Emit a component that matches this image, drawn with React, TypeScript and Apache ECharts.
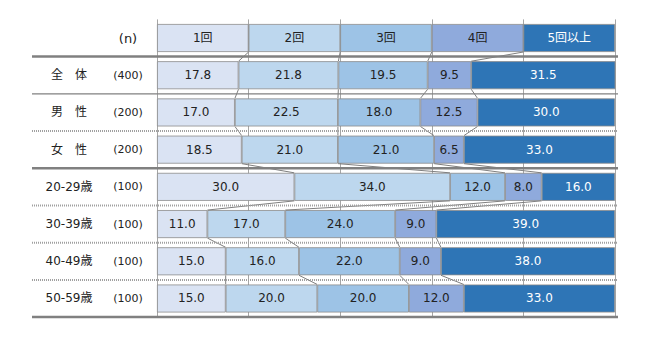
import React, { useEffect, useRef } from "react";
import * as echarts from "echarts";

const seriesNames = ["1回", "2回", "3回", "4回", "5回以上"];
const rowLabels = ["", "全　体", "男　性", "女　性", "20-29歳", "30-39歳", "40-49歳", "50-59歳"];
const nLabels = ["(n)", "(400)", "(200)", "(200)", "(100)", "(100)", "(100)", "(100)"];
const headerValues = [20, 20, 20, 20, 20];
const v1 = [17.8, 17.0, 18.5, 30.0, 11.0, 15.0, 15.0];
const v2 = [21.8, 22.5, 21.0, 34.0, 17.0, 16.0, 20.0];
const v3 = [19.5, 18.0, 21.0, 12.0, 24.0, 22.0, 20.0];
const v4 = [9.5, 12.5, 6.5, 8.0, 9.0, 9.0, 12.0];
const v5 = [31.5, 30.0, 33.0, 16.0, 39.0, 38.0, 33.0];
const colors = ["#dae3f3", "#bdd7ee", "#9dc3e6", "#8faadc", "#2e75b6"];
const labelColors = ["#222", "#222", "#222", "#222", "#ffffff"];
// separator style after each row index
const separatorStyles = ["thick", "solid", "dotted", "thick", "dotted", "dotted", "dotted", "thick"];

const BAR_W = 28;
const FONT = "DejaVu Sans, Noto Sans CJK JP, sans-serif";

export default function App() {
  const ref = useRef<HTMLDivElement>(null);
  useEffect(() => {
    document.body.style.margin = "0";
    const chart = echarts.init(ref.current!, null, { renderer: "svg" });
    const valueSets = [v1, v2, v3, v4, v5];
    const seriesData = valueSets.map((vals, s) => [headerValues[s], ...vals]);

    // cumulative boundaries per row
    const rowCount = rowLabels.length;
    const cum: number[][] = [];
    for (let r = 0; r < rowCount; r++) {
      let acc = 0;
      const b: number[] = [];
      for (let s = 0; s < 4; s++) {
        acc += seriesData[s][r];
        b.push(acc);
      }
      cum.push(b);
    }
    const connectorData: number[][] = [];
    for (let r = 0; r < rowCount - 1; r++) {
      for (let k = 0; k < 4; k++) {
        connectorData.push([cum[r][k], r, cum[r + 1][k], r + 1]);
      }
    }
    const sepCodes: Record<string, number> = { thick: 0, solid: 1, dotted: 2 };
    const sepData = separatorStyles.map((st, i) => [0, i, sepCodes[st]]);

    const barSeries = seriesNames.map((name, s) => ({
      type: "bar",
      name,
      stack: "total",
      barWidth: BAR_W,
      data: seriesData[s],
      itemStyle: { color: colors[s], borderColor: "#8c8c8c", borderWidth: 0.8 },
      label: {
        show: true,
        position: "inside",
        color: labelColors[s],
        fontFamily: FONT,
        fontSize: 12,
        formatter: (p: any) => (p.dataIndex === 0 ? p.seriesName : Number(p.value).toFixed(1)),
      },
      z: 3,
    }));

    chart.setOption({
      animation: false,
      grid: { left: 157, right: 35, top: 19.4, bottom: 21.9 },
      xAxis: {
        type: "value",
        min: 0,
        max: 100,
        interval: 20,
        axisLabel: { show: false },
        axisLine: { show: false },
        axisTick: { show: false },
        splitLine: { show: true, lineStyle: { color: "#a6a6a6", width: 1 } },
      },
      yAxis: {
        type: "category",
        inverse: true,
        data: rowLabels,
        axisLine: { show: false },
        axisTick: { show: false },
        axisLabel: {
          margin: 8.5,
          formatter: (_v: string, i: number) =>
            i === 0 ? `{a|}{h|${nLabels[i]}}` : `{a|${rowLabels[i]}}{b|${nLabels[i]}}`,
          rich: {
            a: { width: 77, align: "center", fontSize: 12, fontFamily: FONT, color: "#222" },
            b: { width: 41, align: "center", fontSize: 11, fontFamily: FONT, color: "#222" },
            h: { width: 41, align: "center", fontSize: 13, fontFamily: FONT, color: "#222" },
          },
        },
      },
      series: [
        ...barSeries,
        {
          type: "custom",
          name: "connectors",
          clip: false,
          z: 4,
          encode: { x: [0, 2], y: [1, 3] },
          data: connectorData,
          renderItem: (params: any, api: any) => {
            const p1 = api.coord([api.value(0), api.value(1)]);
            const p2 = api.coord([api.value(2), api.value(3)]);
            return {
              type: "line",
              shape: { x1: p1[0], y1: p1[1] + BAR_W / 2, x2: p2[0], y2: p2[1] - BAR_W / 2 },
              style: { stroke: "#7f7f7f", lineWidth: 1 },
            };
          },
        },
        {
          type: "custom",
          name: "separators",
          clip: false,
          z: 5,
          encode: { x: 0, y: 1 },
          data: sepData,
          renderItem: (params: any, api: any) => {
            const p = api.coord([api.value(0), api.value(1)]);
            const band = api.size([0, 1])[1];
            const cs = params.coordSys;
            const y = p[1] + band / 2;
            const code = api.value(2);
            const style =
              code === 0
                ? { stroke: "#808080", lineWidth: 2.5 }
                : code === 1
                ? { stroke: "#808080", lineWidth: 1.2 }
                : { stroke: "#a0a0a0", lineWidth: 2, lineDash: [1, 1] };
            return {
              type: "line",
              shape: { x1: cs.x - 125, y1: y, x2: cs.x + cs.width + 3, y2: y },
              style,
            };
          },
        },
      ],
    });
    return () => chart.dispose();
  }, []);
  return <div ref={ref} style={{ width: 650, height: 339 }} />;
}
